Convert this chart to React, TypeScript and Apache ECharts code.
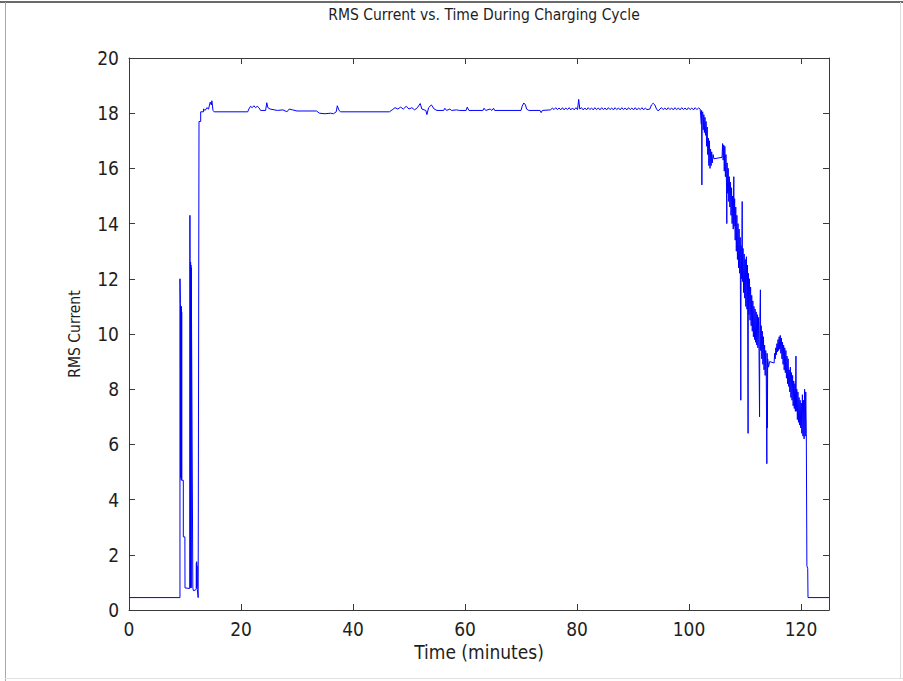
import React, { useEffect, useRef } from "react";
import * as echarts from "echarts";

const chartTitle = "RMS Current vs. Time During Charging Cycle";
const xAxisTitle = "Time (minutes)";
const yAxisTitle = "RMS Current";

const xTickValues = [0, 20, 40, 60, 80, 100, 120];
const yTickValues = [0, 2, 4, 6, 8, 10, 12, 14, 16, 18, 20];

// start-up: idle, a few short bursts, then the jump to full charge current
const startupTime = [0, 9.1, 9.1, 9.18, 9.2, 9.23, 9.26, 9.29, 9.32, 9.35, 9.38, 9.41, 9.44, 9.7, 9.7, 9.98, 10.0, 10.85, 10.88, 10.95, 11.0, 11.03, 11.06, 11.09, 11.12, 11.4, 11.5, 11.8, 12.0, 12.03, 12.06, 12.09, 12.12, 12.15, 12.2, 12.35, 12.45, 12.5, 12.8, 12.8];
const startupCurrent = [0.45, 0.45, 12.0, 11.1, 4.8, 11.0, 5.0, 10.9, 4.7, 11.0, 4.8, 10.8, 4.7, 4.7, 2.65, 2.65, 0.8, 0.78, 14.3, 0.8, 12.6, 0.85, 12.5, 0.8, 12.4, 0.8, 0.7, 0.72, 0.75, 1.7, 0.8, 1.75, 0.85, 1.6, 0.75, 0.45, 0.45, 17.7, 17.7, 18.05];

// constant-current plateau
const plateauTime = [13.3, 13.3, 13.6, 13.9, 14.2, 14.5, 14.7, 14.8, 15.0, 15.2, 21.2, 21.4, 21.7, 22.0, 22.3, 22.6, 22.9, 23.2, 23.5, 24.4, 24.6, 24.8, 25.2, 26.5, 27.5, 28.2, 28.6, 29.2, 30.0, 33.5, 34.0, 35.0, 36.0, 36.5, 37.0, 37.2, 37.5, 37.8, 46.5, 47.0, 47.5, 48.0, 48.5, 49.0, 49.5, 50.0, 50.5, 51.0, 51.5, 52.0, 52.3, 53.0, 53.2, 53.5, 54.0, 54.5, 55.0, 56.2, 56.4, 56.7, 57.3, 57.6, 58.5, 59.0, 60.2, 60.4, 60.7, 63.2, 63.4, 63.7, 64.5, 64.8, 65.1, 65.3, 70.0, 70.2, 70.5, 70.8, 71.0, 71.4, 73.4, 73.6, 73.8, 75.3, 75.6, 75.9, 76.2, 76.5, 76.8, 77.1, 77.4, 77.7, 78.0, 78.3, 78.6, 78.9, 79.2, 79.5, 79.8, 80.1, 80.3, 80.5, 80.8, 81.1, 81.4, 81.7, 82.0, 82.3, 82.6, 82.9, 83.2, 83.5, 83.8, 84.1, 84.4, 84.7, 85.0, 85.3, 85.6, 85.9, 86.2, 86.5, 86.8, 87.1, 87.4, 87.7, 88.0, 88.3, 88.6, 88.9, 89.2, 89.5, 89.8, 90.1, 90.4, 90.7, 91.0, 91.3, 91.6, 91.9, 92.2, 92.5, 93.0, 93.3, 93.6, 93.9, 94.2, 94.5, 94.8, 95.1, 95.4, 95.7, 96.0, 96.3, 96.6, 96.9, 97.2, 97.5, 97.8, 98.1, 98.4, 98.7, 99.0, 99.3, 99.6, 99.9, 100.2, 100.5, 100.8, 101.1, 101.4, 101.7, 102.0];
const plateauCurrent = [18.05, 18.15, 18.1, 18.2, 18.15, 18.4, 18.3, 18.45, 18.1, 18.05, 18.05, 18.15, 18.25, 18.2, 18.27, 18.2, 18.25, 18.2, 18.1, 18.1, 18.38, 18.2, 18.15, 18.1, 18.12, 18.05, 18.15, 18.12, 18.08, 18.08, 18.0, 17.98, 18.0, 17.98, 18.05, 18.27, 18.1, 18.05, 18.05, 18.12, 18.2, 18.15, 18.22, 18.15, 18.25, 18.15, 18.2, 18.12, 18.2, 18.35, 18.15, 18.1, 17.95, 18.2, 18.3, 18.15, 18.1, 18.1, 18.18, 18.1, 18.15, 18.1, 18.12, 18.1, 18.1, 18.22, 18.1, 18.1, 18.18, 18.1, 18.15, 18.1, 18.18, 18.1, 18.1, 18.25, 18.37, 18.3, 18.15, 18.1, 18.1, 18.02, 18.1, 18.12, 18.19, 18.13, 18.2, 18.13, 18.19, 18.12, 18.2, 18.12, 18.19, 18.13, 18.2, 18.12, 18.19, 18.12, 18.2, 18.13, 18.5, 18.15, 18.2, 18.12, 18.19, 18.12, 18.2, 18.13, 18.19, 18.12, 18.2, 18.13, 18.19, 18.12, 18.2, 18.13, 18.19, 18.12, 18.2, 18.13, 18.19, 18.12, 18.2, 18.13, 18.19, 18.12, 18.2, 18.13, 18.19, 18.12, 18.2, 18.13, 18.19, 18.12, 18.2, 18.12, 18.19, 18.13, 18.2, 18.12, 18.19, 18.13, 18.15, 18.3, 18.36, 18.3, 18.15, 18.08, 18.15, 18.2, 18.13, 18.19, 18.12, 18.2, 18.13, 18.19, 18.12, 18.2, 18.13, 18.19, 18.12, 18.2, 18.13, 18.19, 18.12, 18.2, 18.13, 18.19, 18.12, 18.2, 18.13, 18.19, 18.15];

// taper: current falls off, then the charger switches off
const taperTime = [102.1, 102.2, 102.25, 102.3, 102.35, 102.45, 102.55, 102.65, 102.75, 102.85, 102.95, 103.05, 103.15, 103.25, 103.35, 103.45, 103.55, 103.65, 103.75, 103.85, 103.95, 104.05, 104.15, 104.3, 104.45, 105.9, 106.0, 106.1, 106.2, 106.3, 106.4, 106.5, 106.6, 106.7, 106.75, 106.8, 106.9, 107.0, 107.1, 107.2, 107.3, 107.4, 107.5, 107.6, 107.7, 107.8, 107.9, 108.0, 108.05, 108.15, 108.25, 108.35, 108.45, 108.55, 108.65, 108.75, 108.85, 108.95, 109.05, 109.15, 109.25, 109.3, 109.4, 109.5, 109.55, 109.65, 109.75, 109.85, 109.95, 110.05, 110.15, 110.25, 110.35, 110.45, 110.55, 110.6, 110.7, 110.8, 110.9, 111.0, 111.1, 111.2, 111.3, 111.4, 111.5, 111.6, 111.7, 111.8, 111.9, 112.0, 112.1, 112.2, 112.3, 112.4, 112.5, 112.6, 112.65, 112.75, 112.8, 112.9, 113.0, 113.1, 113.2, 113.3, 113.4, 113.5, 113.6, 113.7, 113.8, 113.9, 113.95, 114.0, 114.05, 114.2, 114.4, 115.2, 115.3, 115.4, 115.5, 115.6, 115.7, 115.8, 115.9, 116.0, 116.1, 116.2, 116.3, 116.4, 116.5, 116.6, 116.7, 116.8, 116.9, 117.0, 117.1, 117.2, 117.3, 117.4, 117.5, 117.6, 117.7, 117.8, 117.9, 118.0, 118.1, 118.2, 118.3, 118.4, 118.5, 118.6, 118.7, 118.8, 118.9, 119.0, 119.1, 119.15, 119.25, 119.35, 119.45, 119.55, 119.65, 119.75, 119.85, 119.95, 120.05, 120.15, 120.25, 120.35, 120.45, 120.55, 120.65, 120.75, 120.85, 120.95, 121.05, 121.2, 121.25, 125];
const taperCurrent = [18.15, 17.6, 18.1, 15.4, 17.95, 18.05, 17.4, 17.95, 17.3, 17.85, 17.2, 17.7, 16.8, 17.5, 16.5, 17.1, 16.1, 17.0, 16.0, 16.7, 16.1, 16.6, 16.2, 16.5, 16.35, 16.4, 16.9, 16.3, 16.85, 15.9, 16.8, 15.7, 16.5, 15.3, 14.0, 16.2, 15.1, 16.0, 14.8, 15.7, 14.6, 15.5, 14.3, 15.3, 14.0, 15.0, 13.8, 15.7, 13.9, 14.9, 13.4, 14.6, 13.0, 14.3, 12.7, 14.0, 12.4, 13.8, 12.2, 13.5, 7.6, 13.2, 12.0, 14.8, 11.9, 13.1, 11.5, 12.9, 11.3, 12.7, 11.0, 12.8, 10.9, 12.5, 6.4, 12.2, 10.7, 12.0, 10.5, 11.7, 10.3, 11.4, 10.1, 11.2, 9.9, 11.0, 9.8, 10.9, 9.7, 10.8, 9.6, 10.7, 9.5, 10.6, 9.4, 7.0, 10.5, 11.6, 9.4, 10.3, 9.1, 10.1, 8.9, 9.9, 8.7, 9.6, 8.5, 9.4, 8.4, 5.3, 9.3, 6.6, 9.1, 8.8, 9.0, 8.95, 9.3, 9.1, 9.5, 9.25, 9.65, 9.35, 9.8, 9.4, 9.9, 9.45, 9.95, 9.3, 9.85, 9.1, 9.7, 8.9, 9.6, 8.7, 9.5, 8.6, 9.4, 8.4, 9.2, 8.2, 9.1, 8.1, 8.7, 7.9, 8.8, 7.7, 8.6, 7.6, 8.5, 7.4, 8.3, 7.3, 8.2, 7.2, 9.2, 7.2, 8.0, 6.9, 7.9, 6.8, 7.7, 6.7, 7.6, 6.6, 7.5, 6.4, 7.8, 6.3, 7.6, 6.2, 8.0, 6.3, 7.9, 6.4, 1.6, 1.5, 0.45, 0.45];

const FONT = "'Liberation Sans Narrow', 'DejaVu Sans Condensed', 'Liberation Sans', Arial, sans-serif";
const AXIS_COLOR = "#3a3a3a";
const TEXT_COLOR = "#1e1e1e";

export default function App() {
  const ref = useRef<HTMLDivElement>(null);

  useEffect(() => {
    document.body.style.margin = "0";
    if (!ref.current) return;
    const chart = echarts.init(ref.current, undefined, { renderer: "svg" });

    const times = [...startupTime, ...plateauTime, ...taperTime];
    const currents = [...startupCurrent, ...plateauCurrent, ...taperCurrent];
    const data = times.map((t, i) => [t, currents[i]]);

    const xLabel = (v: number) => (xTickValues.includes(v) ? String(v) : "");
    const yLabel = (v: number) => (yTickValues.includes(v) ? String(v) : "");

    const baseAxisLine = { show: true, onZero: false, lineStyle: { color: AXIS_COLOR, width: 1 } };
    const baseTick = { show: true, inside: true, length: 6, lineStyle: { color: AXIS_COLOR, width: 1 } };

    chart.setOption({
      animation: false,
      backgroundColor: "#ffffff",
      title: {
        text: chartTitle,
        left: 479,
        top: 2,
        textAlign: "center",
        textStyle: { fontFamily: FONT, fontSize: 15.5, fontWeight: "normal", color: TEXT_COLOR },
      },
      grid: { left: 129, right: 74, top: 58, bottom: 71, containLabel: false },
      xAxis: [
        {
          type: "value",
          min: 0,
          max: 125,
          interval: 20,
          position: "bottom",
          axisLine: baseAxisLine,
          axisTick: baseTick,
          splitLine: { show: false },
          axisLabel: { formatter: xLabel, showMaxLabel: false, margin: 9, fontFamily: FONT, fontSize: 19, color: TEXT_COLOR },
          name: xAxisTitle,
          nameLocation: "middle",
          nameGap: 28,
          nameTextStyle: { fontFamily: FONT, fontSize: 19, color: TEXT_COLOR },
        },
        {
          type: "value",
          min: 0,
          max: 125,
          interval: 20,
          position: "top",
          axisLine: baseAxisLine,
          axisTick: baseTick,
          splitLine: { show: false },
          axisLabel: { show: false },
        },
      ],
      yAxis: [
        {
          type: "value",
          min: 0,
          max: 20,
          interval: 2,
          position: "left",
          axisLine: baseAxisLine,
          axisTick: baseTick,
          splitLine: { show: false },
          axisLabel: { formatter: yLabel, margin: 10, fontFamily: FONT, fontSize: 19, color: TEXT_COLOR },
          name: yAxisTitle,
          nameLocation: "middle",
          nameGap: 46,
          nameTextStyle: { fontFamily: FONT, fontSize: 15.5, color: TEXT_COLOR },
        },
        {
          type: "value",
          min: 0,
          max: 20,
          interval: 2,
          position: "right",
          axisLine: baseAxisLine,
          axisTick: baseTick,
          splitLine: { show: false },
          axisLabel: { show: false },
        },
      ],
      series: [
        {
          type: "line",
          xAxisIndex: 0,
          yAxisIndex: 0,
          data,
          showSymbol: false,
          symbol: "none",
          lineStyle: { color: "#0000ff", width: 1 },
          emphasis: { disabled: true },
        },
      ],
      graphic: [
        { type: "line", silent: true, shape: { x1: 0, y1: 2, x2: 903, y2: 2 }, style: { stroke: "#6a6a6a", lineWidth: 2 } },
        { type: "line", silent: true, shape: { x1: 5.5, y1: 2, x2: 5.5, y2: 681 }, style: { stroke: "#a8a8a8", lineWidth: 1 } },
        { type: "line", silent: true, shape: { x1: 5, y1: 678.5, x2: 903, y2: 678.5 }, style: { stroke: "#e2e2e2", lineWidth: 1 } },
        { type: "line", silent: true, shape: { x1: 900.5, y1: 2, x2: 900.5, y2: 679 }, style: { stroke: "#dcdcdc", lineWidth: 1 } },
      ],
    });

    return () => chart.dispose();
  }, []);

  return <div ref={ref} style={{ width: 903, height: 681 }} />;
}
